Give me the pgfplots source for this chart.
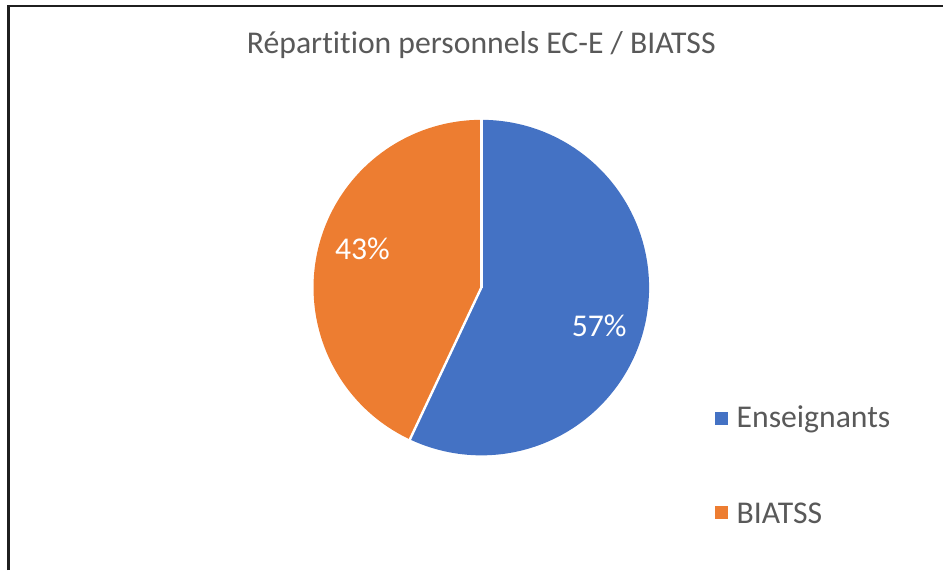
\documentclass[border=0pt]{standalone}
\usepackage{pgfplots}
\usepackage{pgfplotstable}
\pgfplotsset{compat=1.18}
\usepackage{fontspec}
\setmainfont{Carlito}[Ligatures=NoCommon]
\definecolor{cblue}{HTML}{4472C4}
\definecolor{corange}{HTML}{ED7D31}
\definecolor{ctext}{HTML}{595959}
\pgfplotstableread{
label value
Enseignants 57
BIATSS 43
}\piedata
\begin{document}
\begin{tikzpicture}
\pgfplotstablegetelem{0}{value}\of\piedata \let\va\pgfplotsretval
\pgfplotstablegetelem{1}{value}\of\piedata \let\vb\pgfplotsretval
\pgfmathsetmacro{\fA}{\va/(\va+\vb)}
\pgfmathsetmacro{\angA}{90-360*\fA}
\pgfmathtruncatemacro{\pAi}{round(100*\fA)}
\pgfmathtruncatemacro{\pBi}{100-\pAi}
\begin{axis}[
  scale only axis, width=708pt, height=428.25pt,
  xmin=0, xmax=944, ymin=0, ymax=571,
  hide axis, clip=false,
]
\addplot[draw=none] coordinates {(0,0) (944,571)};
% sectors
\fill[cblue] (axis cs:482,283) -- ++(90:126pt) arc[start angle=90, end angle=\angA, radius=126pt] -- cycle;
\fill[corange] (axis cs:482,283) -- ++(\angA:126pt) arc[start angle=\angA, end angle=-270, radius=126pt] -- cycle;
\draw[white, line width=1.8pt] (axis cs:482,283) -- ++(90:126.5pt);
\draw[white, line width=1.8pt] (axis cs:482,283) -- ++(\angA:126.5pt);
% labels
\node[white, font=\fontsize{23.8}{28}\selectfont] at (axis cs:363,322) {\pBi\%};
\node[white, font=\fontsize{23.8}{28}\selectfont] at (axis cs:600,245) {\pAi\%};
% title
\node[ctext, font=\fontsize{23.8}{28}\selectfont] at (axis cs:482,526) {Répartition personnels EC-E / BIATSS};
% legend
\fill[cblue] (axis cs:716,145) rectangle (axis cs:729,158);
\node[ctext, anchor=west, font=\fontsize{23.8}{28}\selectfont] at (axis cs:733,151) {Enseignants};
\fill[corange] (axis cs:716,51) rectangle (axis cs:729,64);
\node[ctext, anchor=west, font=\fontsize{23.8}{28}\selectfont] at (axis cs:733,57) {BIATSS};
% frame
\draw[black!88, line width=2pt] (axis cs:8.5,0) -- (axis cs:8.5,565) -- (axis cs:944,565);
\end{axis}
\end{tikzpicture}
\end{document}
